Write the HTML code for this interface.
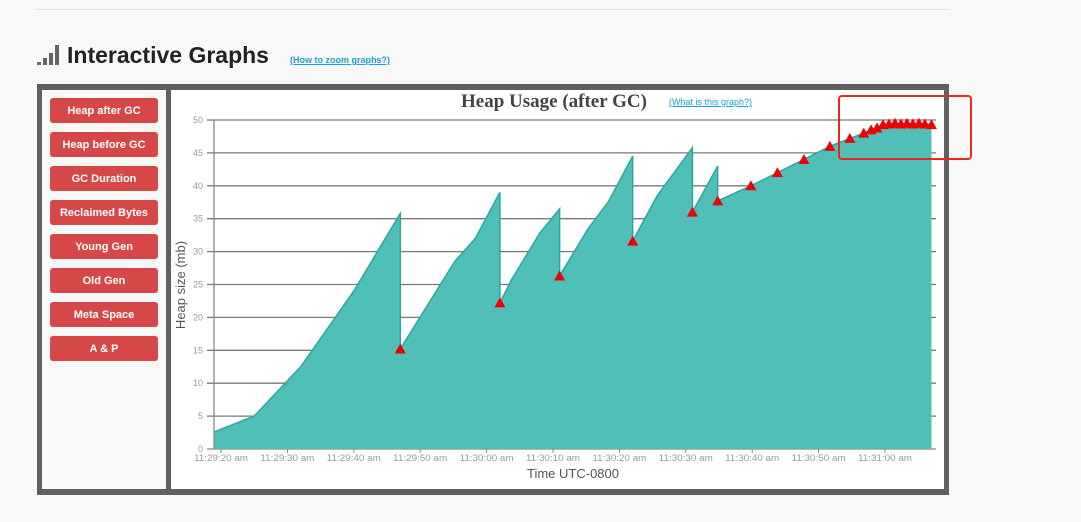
<!DOCTYPE html>
<html><head><meta charset="utf-8">
<style>
body{margin:0;width:1081px;height:522px;background:#f8f8f8;font-family:"Liberation Sans",sans-serif;position:relative;overflow:hidden}
.abs{position:absolute}
.btn{position:absolute;left:50px;width:108px;height:25px;background:#d64848;border-radius:3px;color:#fff;font-weight:bold;font-size:11px;display:flex;align-items:center;justify-content:center}
a{color:#1aa0d8;text-decoration:underline;font-size:9px;font-weight:bold}
</style></head><body>
<div class="abs" style="left:35px;top:9px;width:915px;height:1px;background:#e6e6e6"></div>
<div class="abs" style="left:37px;top:45px;width:24px;height:20px">
 <div class="abs" style="left:0;top:17px;width:4px;height:3px;background:#666"></div>
 <div class="abs" style="left:6px;top:13px;width:4px;height:7px;background:#666"></div>
 <div class="abs" style="left:12px;top:8px;width:4px;height:12px;background:#666"></div>
 <div class="abs" style="left:18px;top:0;width:4px;height:20px;background:#666"></div>
</div>
<div class="abs" style="left:67px;top:42px;font-size:23px;font-weight:bold;color:#222">Interactive Graphs</div>
<a class="abs" style="left:290px;top:55px">(How to zoom graphs?)</a>
<div class="abs" style="left:37px;top:84px;width:912px;height:411px;background:#606060"></div>
<div class="abs" style="left:42px;top:90px;width:124px;height:399px;background:#f8f8f8"></div>
<div class="abs" style="left:171px;top:90px;width:773px;height:399px;background:#fff"></div>
<div class="btn" style="top:98px">Heap after GC</div>
<div class="btn" style="top:132px">Heap before GC</div>
<div class="btn" style="top:166px">GC Duration</div>
<div class="btn" style="top:200px">Reclaimed Bytes</div>
<div class="btn" style="top:234px">Young Gen</div>
<div class="btn" style="top:268px">Old Gen</div>
<div class="btn" style="top:302px">Meta Space</div>
<div class="btn" style="top:336px">A &amp; P</div>
<div class="abs" style="left:461px;top:91px;font-family:'Liberation Serif',serif;font-weight:bold;font-size:19px;color:#444">Heap Usage (after GC)</div>
<a class="abs" style="left:669px;top:97px;font-weight:normal">(What is this graph?)</a>
<svg class="abs" style="left:0;top:0" width="1081" height="522">
<g id="grid"></g><g id="area"></g><g id="marks"></g><g id="axes"></g>
</svg>
<div class="abs" style="left:838px;top:95px;width:130px;height:61px;border:2px solid #e8281e;border-radius:4px"></div>
<script>
const yTicks=[0,5,10,15,20,25,30,35,40,45,50];
const xTickLabels=["11:29:20 am","11:29:30 am","11:29:40 am","11:29:50 am","11:30:00 am","11:30:10 am","11:30:20 am","11:30:30 am","11:30:40 am","11:30:50 am","11:31:00 am"];
const times=[-1,5,12,20,27,27,35.2,38.3,42,42,43.8,48,51,51,55.3,58.3,62,62,65.7,71,71,74.8,74.8,79.8,83.8,87.8,91.7,94.7,96.8,97.9,98.8,99.7,100.6,101.5,102.4,103.3,104.2,105.1,106,107];
const values=[2.6,5,12.5,24,35.8,15.2,28.5,32,39,22.2,25.8,32.8,36.5,26.3,33.5,37.5,44.5,31.6,38.5,45.8,36,43,37.7,40,42,44,46,47.2,48,48.5,48.8,49.3,49.4,49.5,49.4,49.5,49.4,49.5,49.4,49.3];
const gcTimes=[27,42,51,62,71,74.8,79.8,83.8,87.8,91.7,94.7,96.8,97.9,98.8,99.7,100.6,101.5,102.4,103.3,104.2,105.1,106,107];
const gcValues=[15.2,22.2,26.3,31.6,36,37.7,40,42,44,46,47.2,48,48.5,48.8,49.3,49.4,49.5,49.4,49.5,49.4,49.5,49.4,49.3];
const X=t=>221+t*6.64, Y=v=>449-v*6.58;
const NS="http://www.w3.org/2000/svg";
function mk(tag,attrs,parent){const e=document.createElementNS(NS,tag);for(const k in attrs)e.setAttribute(k,attrs[k]);document.getElementById(parent).appendChild(e);return e;}
yTicks.forEach(v=>{
 const l=mk('line',{x1:207,x2:936,y1:Y(v),y2:Y(v),stroke:v==0?'#888':'#7a7a7a','stroke-width':1.3},'grid');
 
 
 const t=mk('text',{x:203,y:Y(v)+3,'text-anchor':'end','font-size':9,fill:'#999','font-family':'Liberation Sans, sans-serif'},'axes');
 t.textContent=v;
 
 
});
xTickLabels.forEach((s,i)=>{
 const x=X(i*10);
 mk('line',{x1:x,x2:x,y1:449,y2:453,stroke:'#888'},'axes');
 const t=mk('text',{x:x,y:461,'text-anchor':'middle','font-size':9,fill:'#999','font-family':'Liberation Sans, sans-serif','textLength':54,'lengthAdjust':'spacingAndGlyphs'},'axes');
 t.textContent=s;
 
 
});
mk('line',{x1:214,x2:214,y1:120,y2:449,stroke:'#888','stroke-width':1.3},'axes');
let d='M'+X(times[0])+','+Y(0);
times.forEach((t,i)=>{d+=' L'+X(t)+','+Y(values[i]);});
d+=' L'+X(times[times.length-1])+','+Y(0)+' Z';
const area=mk('path',{d:d,fill:'#50bfb7',stroke:'none'},'area');


const line=mk('polyline',{points:times.map((t,i)=>X(t)+','+Y(values[i])).join(' '),fill:'none',stroke:'#2aa89c','stroke-width':1.5},'area');


gcTimes.forEach((t,i)=>{
 const x=X(t),y=Y(gcValues[i]);
 const p=mk('polygon',{points:`${x-5.5},${y+4.5} ${x+5.5},${y+4.5} ${x},${y-5.5}`,fill:'#ee0000'},'marks');
 
 
});
const yl=mk('text',{x:0,y:0,transform:'translate(185,285) rotate(-90)','text-anchor':'middle','font-size':13,fill:'#555','font-family':'Liberation Sans, sans-serif'},'axes');
yl.textContent='Heap size (mb)';


const xl=mk('text',{x:573,y:478,'text-anchor':'middle','font-size':13,fill:'#555','font-family':'Liberation Sans, sans-serif'},'axes');
xl.textContent='Time UTC-0800';


</script>
</body></html>
